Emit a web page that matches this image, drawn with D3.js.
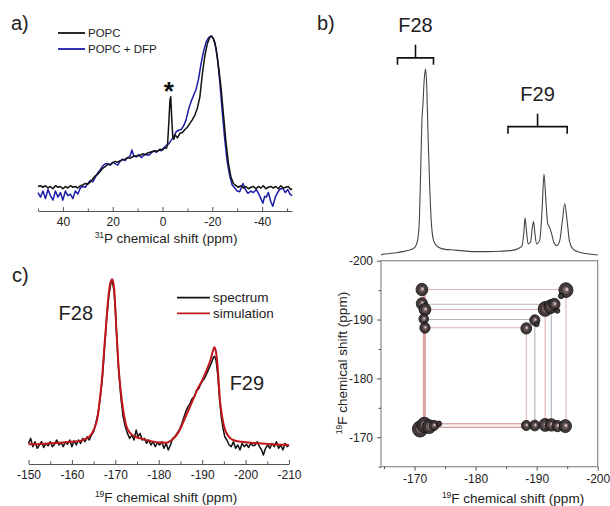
<!DOCTYPE html>
<html>
<head>
<meta charset="utf-8">
<script src="https://cdn.jsdelivr.net/npm/d3@7/dist/d3.min.js"></script>
<style>
  html, body { margin: 0; padding: 0; background: #fff; }
  svg { display: block; font-family: "Liberation Sans", Arial, sans-serif; }
</style>
</head>
<body>
<svg id="fig" width="610" height="506"></svg>
<script>
// ---------- a) 31P spectra: [ppm, relative intensity] ----------
const popc = [[50,1],[49,1.5],[48,0.5],[47,1.5],[46,0],[45,1],[44,-0.5],[43,1.5],[42,0.5],[41,1],[40,-0.5],[39,1],[38,0],[37,1.5],[36,0.5],[35,1],[34,0],[33,1.5],[32,2],[31,3],[30,2.5],[29,4],[28,6],[27,8],[26,9],[25,11],[24,13],[23,14],[22,15.5],[21,15.5],[20,16.5],[19,17.5],[18,17],[17,18],[16,18.5],[15,19],[14,20],[13,19.5],[12,20.5],[11,21],[10,21],[9,21.5],[8,22.5],[7,22],[6,23],[5,23.5],[4,24],[3,24.5],[2,24],[1,25.5],[0,25],[-1,26.5],[-1.5,26],[-2,28],[-2.5,42],[-3,58],[-3.3,60],[-3.7,46],[-4.1,34],[-4.6,32],[-5,35],[-6,33],[-7,36],[-8,36.5],[-9,38.5],[-10,40],[-11,42.5],[-12,45],[-13,48],[-14,52.5],[-15,60],[-16,75],[-17,87],[-18,95],[-19,99],[-19.7,100],[-20.5,98],[-21.5,92],[-22.5,80],[-23.5,66],[-24.5,48],[-25.5,30],[-26.5,16],[-27.5,7],[-28.5,3],[-29.5,1.5],[-30.5,0.5],[-31.5,1.5],[-32.5,0],[-33.5,1],[-34.5,-0.5],[-35.5,0.5],[-36.5,1],[-37.5,-0.5],[-38.5,1],[-39.5,0],[-40.5,1.5],[-41.5,-0.5],[-42.5,0.5],[-43.5,1],[-44.5,0],[-45.5,1],[-46.5,-0.5],[-47.5,1.5],[-48.5,0],[-49.5,0.5],[-50.5,1],[-51.5,-1],[-52,-0.5]];
const popcDfp = [[50,-3],[49,-6],[48,-2],[47,-7],[46,-1],[45,-5],[44,-8],[43,-2],[42,-6],[41,-3],[40,-8],[39,-2],[38,-5],[37,-4],[36,-7],[35,-2],[34,-4],[33,0],[32,1],[31,0.5],[30,3],[29,5],[28,4],[27,7],[26,10],[25,12],[24,14.5],[23,16],[22,16],[21,15],[20,17],[19,16],[18,15],[17,17.5],[16,19],[15,18],[14,20],[13,21],[12.3,25],[11.5,21],[10.5,20.5],[9.5,22],[8.5,20],[7.5,21.5],[6.5,22],[5.5,21.5],[4.5,23],[3.5,24.5],[2.5,23.5],[1.5,25],[0.5,24.5],[-0.5,26.5],[-1.5,28],[-2.5,29],[-3.5,31.5],[-4.5,34],[-5.5,37],[-6.5,38],[-7.5,38.5],[-8.5,41],[-9.5,45],[-10.5,52],[-11.5,57],[-12.5,61],[-13.5,65],[-14.5,72],[-15.5,82],[-16.5,90],[-17.5,96],[-18.5,99],[-19.3,100],[-20.2,99],[-21,96],[-22,86],[-23,70],[-24,50],[-25,32],[-26,17],[-27,8],[-28,2],[-29,0],[-30,-2],[-31,-2.5],[-32.3,3],[-33.3,-1],[-34.3,-3.5],[-35.5,-2],[-36.5,-3],[-37.7,-1],[-38.7,-4],[-39.5,-7],[-40.3,-10],[-41,-5.5],[-41.7,-6],[-42.5,-3],[-43.5,-9],[-44.3,-12],[-45.3,-6],[-46.2,-3],[-47,-1],[-48.3,0],[-49.3,-3],[-50.3,-1],[-51.2,-4],[-52,-5]];
const aTicks = [40, 20, 0, -20, -40];
const aMinorTicks = [50, 30, 10, -10, -30, -50];
const aLegend = ["POPC", "POPC + DFP"];
const aMarkerPpm = -3.3;   // position of the starred resonance

// ---------- b) 19F 1D projection and 2D correlation ----------
const f19Projection = [[-164.5,0],[-165,0.5],[-166,0.8],[-167,1.2],[-168,1.8],[-169,2.5],[-170,4],[-170.5,8],[-170.8,20],[-171,45],[-171.2,72],[-171.35,80],[-171.6,95],[-171.8,100],[-172,90],[-172.2,65],[-172.5,35],[-172.8,15],[-173.2,7],[-174,4],[-175,3],[-176,2.8],[-178,2.2],[-180,1.8],[-182,1.8],[-184,2],[-186,2.5],[-187,3.5],[-187.6,5],[-187.9,12],[-188.1,20],[-188.3,14],[-188.6,6],[-189,7],[-189.3,15],[-189.5,18],[-189.7,12],[-190,6],[-190.5,8],[-190.9,25],[-191.2,43.5],[-191.5,30],[-191.8,17],[-192.1,15],[-192.4,12],[-192.8,7],[-193.3,5],[-193.8,8],[-194.2,18],[-194.6,27.5],[-195,18],[-195.4,7],[-196,3],[-197,1.5],[-198,0.8],[-200,0]];
// cross peaks: [F2 ppm, F1 ppm, relative intensity]
const crossPeaks = [
  [-170.9,-171.4,1.0],[-171.6,-172.1,0.9],[-172.4,-171.8,0.75],[-173.2,-172.0,0.4],[-174.0,-172.3,0.12],
  [-188.3,-172.0,0.4],[-189.7,-172.0,0.45],[-191.4,-172.1,0.65],[-192.4,-172.1,0.6],[-193.4,-171.9,0.5],[-194.7,-171.9,0.65],
  [-188.3,-188.5,0.5],[-189.7,-189.9,0.45],[-190.0,-189.2,0.1],[-191.4,-191.8,0.85],[-192.3,-192.2,0.75],[-192.9,-192.6,0.55],[-193.4,-191.5,0.1],[-194.8,-195.0,0.85],[-194.0,-194.0,0.12],
  [-171.2,-195.1,0.6],[-171.2,-192.7,0.55],[-171.7,-191.7,0.6],[-171.5,-190.1,0.4],[-171.7,-188.6,0.45]
];
const f28Shift = -171.6, f28Row = -172.0;
const f29Shifts = [-188.3, -189.7, -191.4, -192.4, -194.8];
const f29Rows = [-188.6, -190.0, -191.7, -192.6, -195.1];
const bracketF28 = [-167.2, -173.1];
const bracketF29 = [-185.3, -195.0];
const bXTicks = [-170, -180, -190, -200];
const bYTicks = [-200, -190, -180, -170];
const bMinorTicks = [-165, -175, -185, -195];

// ---------- c) 19F static spectrum and simulation ----------
const spectrumC = [[-150,1],[-150.5,4],[-151,-1],[-151.5,2],[-152,-2],[-152.5,0],[-153,2],[-153.5,-1.5],[-154,1],[-154.5,-0.5],[-155,2],[-155.5,-1],[-156,0.5],[-156.5,3],[-157,0],[-157.5,1.5],[-158,-1],[-158.5,2],[-159,0.5],[-159.5,3],[-160,-1],[-160.5,2.5],[-161,0],[-161.5,3],[-162,1],[-162.5,4],[-163,2],[-163.5,5],[-164,3],[-164.5,6],[-165,8],[-165.5,13],[-166,19],[-166.5,28],[-167,40],[-167.5,58],[-168,76],[-168.5,90],[-169,98],[-169.3,99],[-169.7,93],[-170,82],[-170.3,66],[-170.8,44],[-171.3,28],[-171.8,17],[-172.3,11],[-172.8,7],[-173.3,4],[-173.8,6],[-174.3,3],[-174.8,9],[-175.2,5],[-175.7,7],[-176.2,3],[-176.7,4],[-177.2,1],[-177.7,3],[-178.2,0],[-178.7,2],[-179.2,-1],[-179.7,1.5],[-180.2,0],[-180.7,2],[-181.2,-2],[-181.7,1],[-182.2,-3],[-182.7,0],[-183.2,4],[-183.7,5],[-184.2,7],[-184.7,9],[-185.2,12],[-185.7,16],[-186.2,20],[-186.7,23],[-187.2,25],[-187.7,28],[-188.2,29],[-188.7,33],[-189.2,34],[-189.7,37],[-190.2,39],[-190.7,41],[-191.2,44],[-191.7,47],[-192.2,50],[-192.6,53],[-192.9,53.5],[-193.2,51],[-193.6,42],[-194,28],[-194.4,17],[-194.8,10],[-195.2,5],[-195.7,3],[-196.2,0],[-196.7,-1],[-197.2,2],[-197.7,-2],[-198.2,0],[-198.7,-3],[-199.2,1],[-199.7,-1],[-200.2,0.5],[-200.7,-1.5],[-201.2,1],[-201.7,-0.5],[-202.2,0],[-202.7,2],[-203.2,-1],[-203.7,-3],[-204.1,-6],[-204.6,-2],[-205.1,0],[-205.6,-2],[-206.1,1],[-206.6,-1],[-207.1,2],[-207.6,-2],[-208.1,0],[-208.6,-3],[-209.1,1],[-209.6,-1],[-210,0]];
const simulationC = [[-150,0.5],[-152,0.5],[-155,1],[-158,1.5],[-160,2],[-162,2.5],[-163,3.5],[-164,5],[-165,9],[-166,18],[-166.5,29],[-167,42],[-167.5,60],[-168,77],[-168.5,92],[-169,99],[-169.3,100],[-169.7,95],[-170.3,67],[-170.8,45],[-171.5,27],[-172,18],[-172.6,11],[-173.5,7],[-174.5,5],[-175.7,4],[-178,2.5],[-180,1.5],[-181.8,1.4],[-183,3],[-184.1,6],[-185,10],[-186,16],[-186.5,19],[-187.5,25],[-188.8,33],[-190,39],[-191,45],[-192,52],[-192.5,57],[-192.8,59],[-193.2,56],[-193.6,46],[-194.1,27],[-194.6,17],[-195.3,9],[-196,5.5],[-197.1,3],[-199,2],[-202,1.2],[-206,0.5],[-210,0]];
const cTicks = [-150, -160, -170, -180, -190, -200, -210];
const cMinorTicks = [-155, -165, -175, -185, -195, -205];
const cLegend = ["spectrum", "simulation"];

// ---------- drawing ----------
const svg = d3.select("#fig");
svg.append("rect").attr("width", 610).attr("height", 506).attr("fill", "#fff");

const fmt = d => String(d);
const axisColor = "#555";
const textColor = "#222";

function styleAxis(g) {
  g.selectAll(".domain").attr("stroke", axisColor).attr("stroke-width", 1);
  g.selectAll(".tick line").attr("stroke", axisColor);
  g.selectAll(".tick text").attr("fill", textColor).attr("font-size", 12)
    .attr("font-family", "'Liberation Sans', Arial, sans-serif");
}

function axisTitle(g, x, y, sup, rest, rotate) {
  const t = g.append("text")
    .attr("text-anchor", "middle")
    .attr("font-size", 13.5)
    .attr("fill", textColor)
    .attr("transform", rotate ? `translate(${x},${y}) rotate(-90)` : `translate(${x},${y})`);
  t.append("tspan").attr("font-size", 8.5).attr("dy", -5).text(sup);
  t.append("tspan").attr("dy", 5).text(rest);
}

function inwardBottomAxis(g, scale, y, major, minor) {
  const ax = g.append("g").attr("transform", `translate(0,${y})`)
    .call(d3.axisBottom(scale).tickValues(major).tickFormat(fmt)
      .tickSizeInner(-4).tickSizeOuter(0).tickPadding(6));
  styleAxis(ax);
  g.append("g").attr("transform", `translate(0,${y})`)
    .call(d3.axisBottom(scale).tickValues(minor).tickFormat("").tickSizeInner(-2.5).tickSizeOuter(0))
    .call(s => { s.select(".domain").remove(); s.selectAll("line").attr("stroke", axisColor); });
}

// ----- panel a -----
const ga = svg.append("g");
const xa = d3.scaleLinear().domain([50, -52]).range([38, 292]);
const ya = d3.scaleLinear().domain([0, 100]).range([188, 36]);
const lineA = d3.line().x(d => xa(d[0])).y(d => ya(d[1]));
ga.append("path").datum(popcDfp).attr("d", lineA).attr("fill", "none")
  .attr("stroke", "#1c1ca8").attr("stroke-width", 1.5).attr("stroke-linejoin", "round");
ga.append("path").datum(popc).attr("d", lineA).attr("fill", "none")
  .attr("stroke", "#111").attr("stroke-width", 1.5).attr("stroke-linejoin", "round");
inwardBottomAxis(ga, xa, 211, aTicks, aMinorTicks);
axisTitle(ga, 166, 243, "31", "P chemical shift (ppm)", false);
ga.append("text").attr("x", xa(aMarkerPpm) - 2).attr("y", ya(60) + 3)
  .attr("text-anchor", "middle").attr("font-size", 26).attr("font-weight", "bold")
  .attr("fill", "#111").text("*");
const aColors = ["#111", "#1c1ca8"];
aLegend.forEach((name, i) => {
  const y = 33 + i * 16;
  ga.append("line").attr("x1", 58).attr("x2", 85).attr("y1", y).attr("y2", y)
    .attr("stroke", aColors[i]).attr("stroke-width", 1.8);
  ga.append("text").attr("x", 88).attr("y", y + 4).attr("font-size", 11.5)
    .attr("fill", textColor).text(name);
});
ga.append("text").attr("x", 11).attr("y", 30).attr("font-size", 20).attr("fill", textColor).text("a)");

// ----- panel c -----
const gc = svg.append("g");
const xc = d3.scaleLinear().domain([-150, -210]).range([28.5, 289]);
const yc = d3.scaleLinear().domain([0, 100]).range([445, 279.3]);
const lineC = d3.line().x(d => xc(d[0])).y(d => yc(d[1]));
gc.append("path").datum(spectrumC).attr("d", lineC).attr("fill", "none")
  .attr("stroke", "#111").attr("stroke-width", 1.5).attr("stroke-linejoin", "round");
gc.append("path").datum(simulationC).attr("d", lineC.curve(d3.curveMonotoneX)).attr("fill", "none")
  .attr("stroke", "#c0161c").attr("stroke-width", 2);
inwardBottomAxis(gc, xc, 464, cTicks, cMinorTicks);
axisTitle(gc, 166, 502, "19", "F chemical shift (ppm)", false);
const cColors = ["#111", "#c0161c"];
cLegend.forEach((name, i) => {
  const y = 297.7 + i * 15.6;
  gc.append("line").attr("x1", 177).attr("x2", 210).attr("y1", y).attr("y2", y)
    .attr("stroke", cColors[i]).attr("stroke-width", 1.8);
  gc.append("text").attr("x", 213).attr("y", y + 4.5).attr("font-size", 13.5)
    .attr("fill", textColor).text(name);
});
gc.append("text").attr("x", xc(-160.9)).attr("y", yc(75.5)).attr("text-anchor", "middle")
  .attr("font-size", 20).attr("fill", textColor).text("F28");
gc.append("text").attr("x", xc(-200.3)).attr("y", yc(33)).attr("text-anchor", "middle")
  .attr("font-size", 20).attr("fill", textColor).text("F29");
gc.append("text").attr("x", 12).attr("y", 282).attr("font-size", 20).attr("fill", textColor).text("c)");

// ----- panel b -----
const gb = svg.append("g");
const xb = d3.scaleLinear().domain([-164.5, -200]).range([381, 597.7]);
const yb = d3.scaleLinear().domain([-165, -200]).range([466.7, 260.7]);
const yp = d3.scaleLinear().domain([0, 100]).range([255, 69]);

// 1D projection on top
gb.append("path").datum(f19Projection)
  .attr("d", d3.line().x(d => xb(d[0])).y(d => yp(d[1])).curve(d3.curveMonotoneX))
  .attr("fill", "none").attr("stroke", "#444").attr("stroke-width", 1.1);

// brackets and labels
function bracket(range, yLevel, label, labelY) {
  const x1 = xb(range[0]), x2 = xb(range[1]), cx = (x1 + x2) / 2;
  gb.append("path")
    .attr("d", `M${x1},${yLevel + 7}V${yLevel}H${x2}V${yLevel + 7}M${cx},${yLevel}V${yLevel - 13}`)
    .attr("fill", "none").attr("stroke", "#111").attr("stroke-width", 1.6);
  gb.append("text").attr("x", cx).attr("y", labelY).attr("text-anchor", "middle")
    .attr("font-size", 20).attr("fill", textColor).text(label);
}
bracket(bracketF28, yp(106), "F28", 32);
bracket(bracketF29, yp(69), "F29", 101);
gb.append("text").attr("x", 317).attr("y", 30).attr("font-size", 20).attr("fill", textColor).text("b)");

// 2D frame
gb.append("rect").attr("x", xb(-164.5)).attr("y", yb(-200))
  .attr("width", xb(-200) - xb(-164.5)).attr("height", yb(-165) - yb(-200))
  .attr("fill", "#fff").attr("stroke", "#8a8a8a").attr("stroke-width", 1.2);

// correlation lines
const pink = "#e2b0b0", grey = "#b4b4b4";
f29Shifts.forEach((s, i) => {
  const col = i % 2 === 0 ? pink : grey;
  gb.append("line").attr("x1", xb(f28Shift)).attr("x2", xb(s))
    .attr("y1", yb(f29Rows[i])).attr("y2", yb(f29Rows[i]))
    .attr("stroke", col).attr("stroke-width", 1.1);
  gb.append("line").attr("x1", xb(s)).attr("x2", xb(s))
    .attr("y1", yb(f29Rows[i])).attr("y2", yb(f28Row))
    .attr("stroke", col).attr("stroke-width", 1.1);
});
gb.append("line").attr("x1", xb(f28Shift)).attr("x2", xb(f28Shift))
  .attr("y1", yb(f29Rows[4])).attr("y2", yb(f28Row))
  .attr("stroke", "#dba0a0").attr("stroke-width", 3);
[f28Row + 0.3, f28Row - 0.3].forEach(r => {
  gb.append("line").attr("x1", xb(f28Shift)).attr("x2", xb(f29Shifts[0]))
    .attr("y1", yb(r)).attr("y2", yb(r))
    .attr("stroke", "#dba8a8").attr("stroke-width", 1.3);
});

// contour blobs: nested rings per cross peak
const rScale = d3.scaleSqrt().domain([0, 1]).range([0, 8]);
const blobs = gb.append("g");
crossPeaks.forEach(([px, py, v]) => {
  const cx = xb(px), cy = yb(py), r = rScale(v);
  blobs.append("ellipse").attr("cx", cx).attr("cy", cy).attr("rx", r * 0.95).attr("ry", r * 1.0)
    .attr("fill", "#3a3232").attr("stroke", "#111").attr("stroke-width", 0.9).attr("opacity", 0.95);
  if (r > 3) {
    blobs.append("ellipse").attr("cx", cx).attr("cy", cy).attr("rx", r * 0.55).attr("ry", r * 0.6)
      .attr("fill", "#6e5c5c").attr("stroke", "#2a2222").attr("stroke-width", 0.6);
    blobs.append("ellipse").attr("cx", cx + r * 0.1).attr("cy", cy - r * 0.1).attr("rx", r * 0.22).attr("ry", r * 0.25)
      .attr("fill", "#c8b8b8");
  }
});

// 2D axes
const bxAxis = gb.append("g").attr("transform", `translate(0,${yb(-165)})`)
  .call(d3.axisBottom(xb).tickValues(bXTicks).tickFormat(fmt).tickSizeInner(4).tickSizeOuter(0).tickPadding(4));
styleAxis(bxAxis);
bxAxis.select(".domain").remove();
gb.append("g").attr("transform", `translate(0,${yb(-165)})`)
  .call(d3.axisBottom(xb).tickValues(bMinorTicks).tickFormat("").tickSizeInner(2.5).tickSizeOuter(0))
  .call(s => { s.select(".domain").remove(); s.selectAll("line").attr("stroke", axisColor); });
const byAxis = gb.append("g").attr("transform", `translate(${xb(-164.5)},0)`)
  .call(d3.axisLeft(yb).tickValues(bYTicks).tickFormat(fmt).tickSizeInner(4).tickSizeOuter(0).tickPadding(4));
styleAxis(byAxis);
byAxis.select(".domain").remove();
gb.append("g").attr("transform", `translate(${xb(-164.5)},0)`)
  .call(d3.axisLeft(yb).tickValues(bMinorTicks).tickFormat("").tickSizeInner(2.5).tickSizeOuter(0))
  .call(s => { s.select(".domain").remove(); s.selectAll("line").attr("stroke", axisColor); });
axisTitle(gb, 513, 503, "19", "F chemical shift (ppm)", false);
axisTitle(gb, 347, 363, "19", "F chemical shift (ppm)", true);
</script>
</body>
</html>
